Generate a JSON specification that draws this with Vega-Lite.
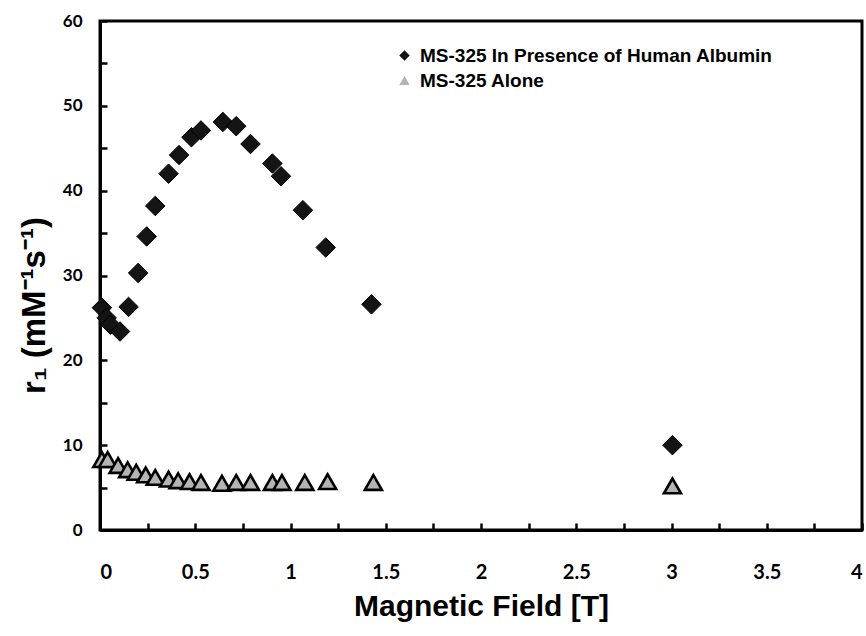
{
  "$schema": "https://vega.github.io/schema/vega-lite/v6.json",
  "width": 762,
  "height": 509,
  "autosize": "none",
  "padding": {"left": 100, "top": 21, "right": 4, "bottom": 106},
  "background": "white",
  "config": {
    "view": {"stroke": "black", "strokeWidth": 3},
    "axis": {
      "domainColor": "black", "domainWidth": 3,
      "tickColor": "black", "tickWidth": 2.5, "tickSize": -7,
      "grid": false,
      "labelColor": "black", "labelFont": "Lato", "labelFontWeight": "bold",
      "titleColor": "black", "titleFont": "Liberation Sans", "titleFontWeight": "bold"
    }
  },
  "data": {"values": [
    {"field": 0.01, "r1": 26.2, "series": "MS-325 In Presence of Human Albumin"},
    {"field": 0.035, "r1": 25.0, "series": "MS-325 In Presence of Human Albumin"},
    {"field": 0.055, "r1": 24.2, "series": "MS-325 In Presence of Human Albumin"},
    {"field": 0.105, "r1": 23.4, "series": "MS-325 In Presence of Human Albumin"},
    {"field": 0.15, "r1": 26.3, "series": "MS-325 In Presence of Human Albumin"},
    {"field": 0.2, "r1": 30.3, "series": "MS-325 In Presence of Human Albumin"},
    {"field": 0.245, "r1": 34.6, "series": "MS-325 In Presence of Human Albumin"},
    {"field": 0.29, "r1": 38.2, "series": "MS-325 In Presence of Human Albumin"},
    {"field": 0.36, "r1": 42.0, "series": "MS-325 In Presence of Human Albumin"},
    {"field": 0.415, "r1": 44.2, "series": "MS-325 In Presence of Human Albumin"},
    {"field": 0.48, "r1": 46.3, "series": "MS-325 In Presence of Human Albumin"},
    {"field": 0.53, "r1": 47.1, "series": "MS-325 In Presence of Human Albumin"},
    {"field": 0.645, "r1": 48.1, "series": "MS-325 In Presence of Human Albumin"},
    {"field": 0.715, "r1": 47.6, "series": "MS-325 In Presence of Human Albumin"},
    {"field": 0.79, "r1": 45.5, "series": "MS-325 In Presence of Human Albumin"},
    {"field": 0.905, "r1": 43.2, "series": "MS-325 In Presence of Human Albumin"},
    {"field": 0.95, "r1": 41.7, "series": "MS-325 In Presence of Human Albumin"},
    {"field": 1.065, "r1": 37.7, "series": "MS-325 In Presence of Human Albumin"},
    {"field": 1.185, "r1": 33.3, "series": "MS-325 In Presence of Human Albumin"},
    {"field": 1.425, "r1": 26.6, "series": "MS-325 In Presence of Human Albumin"},
    {"field": 3.005, "r1": 10.0, "series": "MS-325 In Presence of Human Albumin"},
    {"field": 0.01, "r1": 8.3, "series": "MS-325 Alone"},
    {"field": 0.04, "r1": 8.3, "series": "MS-325 Alone"},
    {"field": 0.095, "r1": 7.6, "series": "MS-325 Alone"},
    {"field": 0.145, "r1": 7.1, "series": "MS-325 Alone"},
    {"field": 0.19, "r1": 6.8, "series": "MS-325 Alone"},
    {"field": 0.24, "r1": 6.5, "series": "MS-325 Alone"},
    {"field": 0.29, "r1": 6.2, "series": "MS-325 Alone"},
    {"field": 0.36, "r1": 6.0, "series": "MS-325 Alone"},
    {"field": 0.41, "r1": 5.8, "series": "MS-325 Alone"},
    {"field": 0.47, "r1": 5.7, "series": "MS-325 Alone"},
    {"field": 0.53, "r1": 5.6, "series": "MS-325 Alone"},
    {"field": 0.64, "r1": 5.5, "series": "MS-325 Alone"},
    {"field": 0.715, "r1": 5.6, "series": "MS-325 Alone"},
    {"field": 0.79, "r1": 5.6, "series": "MS-325 Alone"},
    {"field": 0.905, "r1": 5.6, "series": "MS-325 Alone"},
    {"field": 0.955, "r1": 5.6, "series": "MS-325 Alone"},
    {"field": 1.075, "r1": 5.6, "series": "MS-325 Alone"},
    {"field": 1.195, "r1": 5.7, "series": "MS-325 Alone"},
    {"field": 1.435, "r1": 5.6, "series": "MS-325 Alone"},
    {"field": 3.005, "r1": 5.2, "series": "MS-325 Alone"}
  ]},
  "encoding": {
    "x": {
      "field": "field", "type": "quantitative",
      "scale": {"domain": [0, 4], "nice": false, "zero": false},
      "axis": {
        "values": [0, 0.25, 0.5, 0.75, 1, 1.25, 1.5, 1.75, 2, 2.25, 2.5, 2.75, 3, 3.25, 3.5, 3.75, 4],
        "format": "~g",
        "labelExpr": "(datum.value * 2) % 1 == 0 ? datum.label : ''",
        "labelFontSize": 20, "labelPadding": 39,
        "title": "Magnetic Field [T]", "titleFontSize": 30,
        "titleY": 85, "titleBaseline": "alphabetic"
      }
    },
    "y": {
      "field": "r1", "type": "quantitative",
      "scale": {"domain": [0, 60], "nice": false},
      "axis": {
        "values": [0, 5, 10, 15, 20, 25, 30, 35, 40, 45, 50, 55, 60],
        "labelExpr": "datum.value % 10 == 0 ? datum.label : ''",
        "labelFontSize": 17, "labelPadding": 25,
        "title": "r₁ (mM⁻¹s⁻¹)", "titleFontSize": 33,
        "titleX": -56, "titleY": 284, "titleBaseline": "alphabetic"
      }
    },
    "shape": {
      "field": "series", "type": "nominal",
      "scale": {"domain": ["MS-325 In Presence of Human Albumin", "MS-325 Alone"], "range": ["diamond", "triangle-up"]},
      "legend": {
        "orient": "none", "legendX": 295, "legendY": 25, "title": null,
        "labelFont": "Liberation Sans", "labelFontWeight": "bold", "labelFontSize": 19, "labelColor": "black",
        "labelLimit": 600,
        "symbolSize": 110, "symbolStrokeColor": "black", "symbolStrokeWidth": 1.5,
        "rowPadding": 5, "labelOffset": 6
      }
    },
    "fill": {
      "field": "series", "type": "nominal",
      "scale": {"domain": ["MS-325 In Presence of Human Albumin", "MS-325 Alone"], "range": ["#141414", "#b4b4b4"]},
      "legend": {
        "orient": "none", "legendX": 295, "legendY": 25, "title": null,
        "labelFont": "Liberation Sans", "labelFontWeight": "bold", "labelFontSize": 19, "labelColor": "black",
        "labelLimit": 600,
        "symbolSize": 110, "symbolStrokeColor": "black", "symbolStrokeWidth": 1.5,
        "rowPadding": 5, "labelOffset": 6
      }
    }
  },
  "layer": [
    {
      "transform": [{"filter": "datum.series == 'MS-325 Alone'"}],
      "mark": {"type": "point", "filled": true, "stroke": "black", "strokeWidth": 2.6, "size": 290, "opacity": 1}
    },
    {
      "transform": [{"filter": "datum.series != 'MS-325 Alone'"}],
      "mark": {"type": "point", "filled": true, "stroke": "black", "strokeWidth": 1, "size": 380, "opacity": 1}
    }
  ]
}
